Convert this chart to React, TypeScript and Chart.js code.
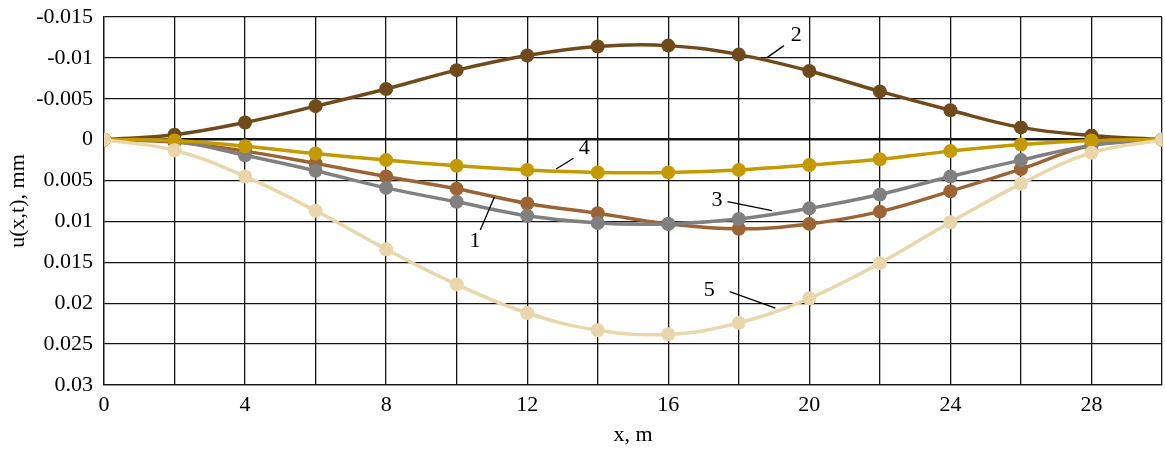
import React, { useEffect, useRef } from "react";
import { Chart, registerables } from "chart.js";

Chart.register(...registerables);

const xValues = [0, 2, 4, 6, 8, 10, 12, 14, 16, 18, 20, 22, 24, 26, 28, 30];
const series1 = [0, 0.0003, 0.0014, 0.0029, 0.0045, 0.006, 0.0078, 0.009, 0.0103, 0.0109, 0.0103, 0.0088, 0.0063, 0.0036, 0.0007, 0];
const series2 = [0, -0.0006, -0.0021, -0.0041, -0.0062, -0.0085, -0.0103, -0.0114, -0.0115, -0.0104, -0.0084, -0.0059, -0.0036, -0.0015, -0.0005, 0];
const series3 = [0, 0.0002, 0.0019, 0.0038, 0.0059, 0.0076, 0.0093, 0.0102, 0.0103, 0.0097, 0.0084, 0.0067, 0.0045, 0.0025, 0.0007, 0];
const series4 = [0, 0.0001, 0.0008, 0.0017, 0.0025, 0.0032, 0.0037, 0.004, 0.004, 0.0037, 0.0031, 0.0024, 0.0014, 0.0006, 0.0001, 0];
const series5 = [0, 0.0013, 0.0045, 0.0087, 0.0134, 0.0177, 0.0212, 0.0233, 0.0238, 0.0224, 0.0194, 0.0151, 0.0101, 0.0054, 0.0016, 0];

const seriesLabels = ["1", "2", "3", "4", "5"];
const seriesColors = ["#9c6434", "#714a1b", "#808080", "#c59a00", "#e9d6aa"];

// annotation labels: text position and leader line (data coordinates)
const annText = ["1", "2", "3", "4", "5"];
const annTextX = [10.52, 19.63, 17.38, 13.62, 17.16];
const annTextY = [0.01247, -0.01272, 0.00746, 0.00105, 0.01846];
const annLineX1 = [10.67, 18.8, 17.68, 12.82, 17.74];
const annLineY1 = [0.01104, -0.01003, 0.00758, 0.00358, 0.01858];
const annLineX2 = [11.07, 19.28, 18.94, 13.31, 19.04];
const annLineY2 = [0.00701, -0.0115, 0.00869, 0.00227, 0.0206];

const FONT = "'Liberation Serif', 'Times New Roman', serif";

export default function App() {
  const ref = useRef<HTMLCanvasElement | null>(null);

  useEffect(() => {
    document.body.style.margin = "0";
    const canvas = ref.current;
    if (!canvas) return;
    const allSeries = [series1, series2, series3, series4, series5];
    const drawOrder = [3, 4, 2, 1, 0];
    const datasets = allSeries.map((s, i) => ({
      label: seriesLabels[i],
      data: xValues.map((x, j) => ({ x, y: s[j] })),
      borderColor: seriesColors[i],
      backgroundColor: seriesColors[i],
      pointBackgroundColor: seriesColors[i],
      pointBorderColor: seriesColors[i],
      pointRadius: 7,
      pointBorderWidth: 0,
      borderWidth: 3.5,
      tension: 0.4,
      fill: false,
      order: drawOrder[i],
    }));

    const annotations = {
      id: "annotations",
      afterDatasetsDraw(chart: any) {
        const { ctx, scales } = chart;
        const xs = scales.x;
        const ys = scales.y;
        ctx.save();
        ctx.strokeStyle = "#000";
        ctx.lineWidth = 1.3;
        ctx.fillStyle = "#000";
        ctx.font = `22px ${FONT}`;
        ctx.textAlign = "center";
        ctx.textBaseline = "middle";
        for (let i = 0; i < annText.length; i++) {
          ctx.beginPath();
          ctx.moveTo(xs.getPixelForValue(annLineX1[i]), ys.getPixelForValue(annLineY1[i]));
          ctx.lineTo(xs.getPixelForValue(annLineX2[i]), ys.getPixelForValue(annLineY2[i]));
          ctx.stroke();
          ctx.fillText(annText[i], xs.getPixelForValue(annTextX[i]), ys.getPixelForValue(annTextY[i]));
        }
        ctx.restore();
      },
    };

    const chart = new Chart(canvas, {
      type: "line",
      data: { datasets },
      plugins: [annotations],
      options: {
        responsive: false,
        animation: false,
        layout: { autoPadding: false, padding: { left: 0, right: 3, top: 17, bottom: 0 } },
        plugins: { legend: { display: false }, tooltip: { enabled: false } },
        scales: {
          x: {
            type: "linear",
            min: 0,
            max: 30,
            afterFit: (scale: any) => {
              scale.height = 65;
              scale.paddingLeft = 0;
              scale.paddingRight = 0;
            },
            ticks: {
              stepSize: 2,
              padding: 0,
              color: "#000",
              font: { family: FONT, size: 22, lineHeight: 1.8 },
              maxRotation: 0,
              autoSkip: false,
              callback: (v: any) => (Number(v) % 4 === 0 && Number(v) < 30 ? String(v) : ""),
            },
            grid: { color: "#141414", lineWidth: 1.3, drawTicks: false },
            border: { color: "#141414", width: 1.3 },
            title: {
              display: true,
              text: "x, m",
              color: "#000",
              font: { family: FONT, size: 22 },
              padding: { top: 0, bottom: 2 },
            },
          },
          y: {
            type: "linear",
            min: -0.015,
            max: 0.03,
            reverse: true,
            afterFit: (scale: any) => {
              scale.width = 104;
              scale.paddingTop = 0;
              scale.paddingBottom = 0;
            },
            ticks: {
              stepSize: 0.005,
              padding: 11,
              color: "#000",
              font: { family: FONT, size: 22 },
              callback: (v: any) => String(Number(Number(v).toFixed(4))),
            },
            grid: {
              color: "#141414",
              drawTicks: false,
              lineWidth: (c: any) => (c.tick && Math.abs(c.tick.value) < 1e-9 ? 2.6 : 1.3),
            },
            border: { color: "#141414", width: 1.3 },
            title: {
              display: true,
              text: "u(x,t), mm",
              color: "#000",
              font: { family: FONT, size: 22 },
              padding: { top: 5, bottom: 0 },
            },
          },
        },
      },
    } as any);
    return () => chart.destroy();
  }, []);

  return (
    <div style={{ width: 1165, height: 450 }}>
      <canvas ref={ref} width={1165} height={450} style={{ display: "block" }} />
    </div>
  );
}
